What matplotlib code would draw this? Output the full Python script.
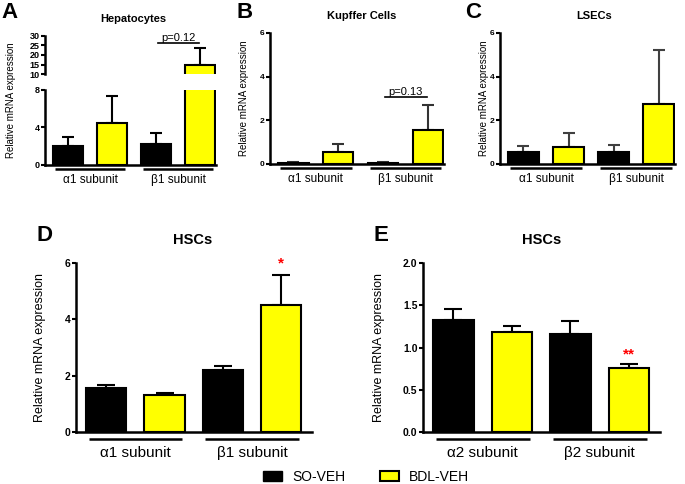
import numpy as np
import matplotlib
matplotlib.use('Agg')
import matplotlib.pyplot as plt
from matplotlib.patches import Patch
from matplotlib.transforms import offset_copy

plt.rcParams['font.family'] = ['Liberation Sans', 'DejaVu Sans']

W, H = 685, 484
YELLOW = "#FFFF00"

GROUPS_1 = ["α1 subunit", "β1 subunit"]
GROUPS_2 = ["α2 subunit", "β2 subunit"]
SERIES = ["SO-VEH", "BDL-VEH"]

# A - Hepatocytes
hep_so = [2.0, 2.2]
hep_so_err = [0.95, 1.25]
hep_bdl = [4.45, 14.8]
hep_bdl_err = [2.9, 8.7]

# B - Kupffer cells
kc_so = [0.05, 0.05]
kc_so_err = [0.02, 0.02]
kc_bdl = [0.56, 1.57]
kc_bdl_err = [0.37, 1.13]

# C - LSECs
lsec_so = [0.54, 0.57]
lsec_so_err = [0.27, 0.29]
lsec_bdl = [0.80, 2.76]
lsec_bdl_err = [0.61, 2.44]

# D - HSCs (alpha1 / beta1)
hsc1_so = [1.55, 2.2]
hsc1_so_err = [0.11, 0.15]
hsc1_bdl = [1.3, 4.52]
hsc1_bdl_err = [0.08, 1.05]

# E - HSCs (alpha2 / beta2)
hsc2_so = [1.33, 1.16]
hsc2_so_err = [0.13, 0.15]
hsc2_bdl = [1.18, 0.76]
hsc2_bdl_err = [0.08, 0.04]

fig = plt.figure(figsize=(W / 100, H / 100), dpi=100)


def add_ax(l, r, t, b):
    return fig.add_axes([l / W, 1 - b / H, (r - l) / W, (b - t) / H])


def style(ax, ticks, fs, fmt=None, bottom=True):
    for s in ["top", "right"]:
        ax.spines[s].set_visible(False)
    ax.spines["left"].set_linewidth(1.8)
    ax.spines["bottom"].set_linewidth(1.8)
    if not bottom:
        ax.spines["bottom"].set_visible(False)
    ax.set_xticks([])
    ax.set_yticks(ticks)
    if fmt:
        ax.set_yticklabels([fmt % t for t in ticks])
    ax.tick_params(axis="y", direction="out", length=3, width=1.5, pad=1,
                   labelsize=fs)
    for lab in ax.get_yticklabels():
        lab.set_fontweight("bold")


def bars(ax, so, so_err, bdl, bdl_err, width, capsize, ecolor="black"):
    x_so = np.array([0, 2])
    x_bdl = x_so + 1
    ax.errorbar(x_so, so, yerr=[np.zeros(2), so_err], fmt="none", ecolor=ecolor,
                elinewidth=1.5, capsize=capsize, capthick=1.5, zorder=1)
    ax.errorbar(x_bdl, bdl, yerr=[np.zeros(2), bdl_err], fmt="none", ecolor=ecolor,
                elinewidth=1.5, capsize=capsize, capthick=1.5, zorder=1)
    ax.bar(x_so, so, width, color="black", edgecolor="black", linewidth=1.5, zorder=2)
    ax.bar(x_bdl, bdl, width, color=YELLOW, edgecolor="black", linewidth=1.5, zorder=2)


def group_lines(ax, labels, off_line, off_text, fs):
    tr_line = offset_copy(ax.get_xaxis_transform(), fig=fig, y=-off_line, units="dots")
    tr_text = offset_copy(ax.get_xaxis_transform(), fig=fig, y=-off_text, units="dots")
    for i, lab in enumerate(labels):
        x0 = 2 * i
        ax.plot([x0 - 0.3, x0 + 1.3], [0, 0], transform=tr_line, color="black",
                lw=1.8, clip_on=False, solid_capstyle="butt")
        ax.text(x0 + 0.5, 0, lab, transform=tr_text, ha="center", va="center",
                fontsize=fs)


def pbracket(ax, y, text, fs=8):
    ax.plot([2.05, 2.98], [y, y], color="black", lw=1.2, clip_on=False)
    ax.text(2.5, y, text, ha="center", va="bottom", fontsize=fs)


TOP_XLIM = (-0.52, 3.36)
BOT_XLIM = (-0.52, 3.53)

# ---- A: broken axis ----
axA = add_ax(45, 216, 90, 165)
axA_up = add_ax(45, 216, 35.7, 74.3)
for ax in (axA, axA_up):
    bars(ax, hep_so, hep_so_err, hep_bdl, hep_bdl_err, 0.68, 4.5)
    ax.set_xlim(*TOP_XLIM)
axA.set_ylim(0, 8)
axA_up.set_ylim(10, 30)
style(axA, [0, 4, 8], 6.5)
style(axA_up, [10, 15, 20, 25, 30], 6.5, bottom=False)
group_lines(axA, GROUPS_1, 4, 15, 8.5)
pbracket(axA_up, 26.4, "p=0.12")

# ---- B ----
axB = add_ax(270, 444, 33, 164)
bars(axB, kc_so, kc_so_err, kc_bdl, kc_bdl_err, 0.68, 4.5, ecolor="#333333")
axB.set_xlim(*TOP_XLIM)
axB.set_ylim(0, 6)
style(axB, [0, 2, 4, 6], 6)
group_lines(axB, GROUPS_1, 4, 15, 8.5)
pbracket(axB, 3.07, "p=0.13")

# ---- C ----
axC = add_ax(500, 675, 33, 164)
bars(axC, lsec_so, lsec_so_err, lsec_bdl, lsec_bdl_err, 0.68, 4.5, ecolor="#404040")
axC.set_xlim(*TOP_XLIM)
axC.set_ylim(0, 6)
style(axC, [0, 2, 4, 6], 6)
group_lines(axC, GROUPS_1, 4, 15, 8.5)

# ---- D ----
axD = add_ax(76, 312, 263, 432)
bars(axD, hsc1_so, hsc1_so_err, hsc1_bdl, hsc1_bdl_err, 0.69, 6.5)
axD.set_xlim(*BOT_XLIM)
axD.set_ylim(0, 6)
style(axD, [0, 2, 4, 6], 7.5)
group_lines(axD, GROUPS_1, 7, 21, 11)
axD.text(3, 5.72, "*", color="red", ha="center", va="bottom", fontsize=11,
         fontweight="bold")

# ---- E ----
axE = add_ax(423, 660, 263, 432)
bars(axE, hsc2_so, hsc2_so_err, hsc2_bdl, hsc2_bdl_err, 0.69, 6.5)
axE.set_xlim(*BOT_XLIM)
axE.set_ylim(0, 2)
style(axE, [0, 0.5, 1.0, 1.5, 2.0], 7.5, fmt="%.1f")
group_lines(axE, GROUPS_2, 7, 21, 11)
axE.text(3, 0.83, "**", color="red", ha="center", va="bottom", fontsize=11,
         fontweight="bold")

# ---- titles, panel letters, y labels ----
titles = [("Hepatocytes", 133, 19, 8), ("Kupffer Cells", 362, 16, 8),
          ("LSECs", 594, 16, 8), ("HSCs", 193, 240, 10.5), ("HSCs", 542, 240, 10.5)]
for txt, x, y, fs in titles:
    fig.text(x / W, 1 - y / H, txt, ha="center", va="center", fontsize=fs,
             fontweight="bold")

letters = [("A", 10, 12), ("B", 245, 12), ("C", 473, 12), ("D", 44, 236), ("E", 381, 236)]
for txt, x, y in letters:
    fig.text(x / W, 1 - y / H, txt, ha="center", va="center", fontsize=16,
             fontweight="bold")

ylabs = [(11, 100, 7), (244, 98, 7), (484, 98, 7), (40, 347, 9), (379, 348, 9)]
for x, y, fs in ylabs:
    fig.text(x / W, 1 - y / H, "Relative mRNA expression", rotation=90,
             ha="center", va="center", fontsize=fs)

# ---- legend ----
handles = [Patch(facecolor="black", edgecolor="black"),
           Patch(facecolor=YELLOW, edgecolor="black", linewidth=1.5)]
fig.legend(handles, SERIES, loc="center", bbox_to_anchor=(366 / W, 1 - 477 / H),
           ncol=2, frameon=False, fontsize=10, handlelength=1.4, handleheight=0.7,
           columnspacing=2.5, handletextpad=0.7)

fig.savefig("out.png", dpi=100)
